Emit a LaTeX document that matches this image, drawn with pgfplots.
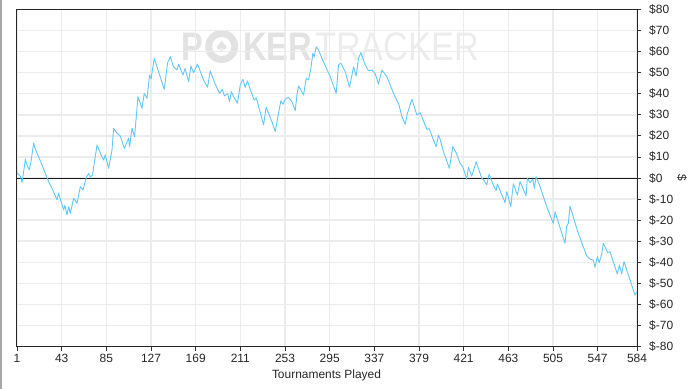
\documentclass[border=0pt]{standalone}
\usepackage{pgfplots}
\pgfplotsset{compat=1.18}
\usepackage{fontspec}
\setmainfont{Liberation Sans}
\definecolor{linec}{RGB}{96,200,250}
\definecolor{gridc}{RGB}{236,236,236}
\definecolor{wmA}{RGB}{226,226,226}
\definecolor{wmB}{RGB}{236,236,236}
\begin{document}
\begin{tikzpicture}
\useasboundingbox (-16bp,-42.5bp) rectangle (684bp,346.5bp);
\draw[black!35, line width=2bp] (-15bp,-42.5bp) -- (-15bp,346.5bp);
% watermark
\node[anchor=west, text=wmA, font=\fontsize{40}{40}\bfseries\selectfont, xscale=0.82, inner sep=0] at (165bp,300bp) {P};
\fill[wmA] (205.7bp,300bp) circle (16.5bp);
\fill[white] (205.7bp,300bp) circle (9.5bp);
\node[text=wmA, font=\fontsize{20}{20}\selectfont, inner sep=0] at (205.7bp,300bp) {♠};
\node[anchor=west, text=wmA, font=\fontsize{40}{40}\bfseries\selectfont, xscale=0.82, inner sep=0] at (227bp,300bp) {KER};
\node[anchor=west, text=wmB, font=\fontsize{40}{40}\selectfont, xscale=0.86, inner sep=0] at (299bp,300bp) {TRACKER};
\begin{axis}[
  at={(0,0)}, anchor=south west,
  scale only axis, width=621bp, height=337bp,
  xmin=0, xmax=584, ymin=-80, ymax=80,
  xtick={1,43,85,127,169,211,253,295,337,379,421,463,505,547,584},
  xticklabels={1,43,85,127,169,211,253,295,337,379,421,463,505,547,584},
  ytick={-80,-70,-60,-50,-40,-30,-20,-10,0,10,20,30,40,50,60,70,80},
  yticklabels={\$-80,\$-70,\$-60,\$-50,\$-40,\$-30,\$-20,\$-10,\$0,\$10,\$20,\$30,\$40,\$50,\$60,\$70,\$80},
  xtick pos=lower, ytick pos=upper,
  yticklabel pos=right,
  tick align=outside, major tick length=4bp,
  tick style={black!80, line width=0.8bp},
  grid=major, major grid style={gridc, line width=1.4bp},
  axis line style={black!85, line width=1bp},
  ticklabel style={font=\fontsize{12}{14}\selectfont, text=black!85},
  yticklabel style={anchor=west, xshift=4.7bp},
  xticklabel style={anchor=north},
  xlabel={Tournaments Played},
  xlabel style={font=\fontsize{12}{14}\selectfont, text=black!85, at={(axis description cs:0.5,0)}, anchor=center, yshift=-29bp},
  ylabel={\$},
  ylabel style={font=\fontsize{12}{14}\selectfont, text=black!85, at={(axis description cs:1,0.5)}, anchor=center, rotate=180, yshift=45bp},
]
\addplot[black!90, line width=1bp, forget plot] coordinates {(0,0) (584,0)};
\addplot[linec, line width=0.9bp, line join=round] coordinates {
(1,2.5) (4,1) (5.7,-2.2) (7.2,3) (8.8,9) (10.5,6) (12.6,3.8) (14.4,8.9) (16.6,16.5) (18,14) (19.8,11.7) (23,8) (27.6,2.2) (30.7,-1.7) (34,-5) (38.6,-10.4) (40.1,-7.3) (44.8,-15.2) (46,-13) (48,-17.6) (49.5,-13.6) (51.1,-16.8) (54.2,-9.6) (57.4,-12) (60.5,-4.1) (63,-5.7) (66,0) (68.3,2.2) (70,0.5) (72,1.5)
(76.2,15.7) (80,11) (82.4,8.5) (84,11) (87.1,4.6) (90.3,13.3) (91.8,23.6) (95,21.2) (98,20) (101.9,14.1) (105.9,18.9) (106.8,14.9) (109.1,23.6) (111.5,19.6) (114.7,38.6) (118.5,33.1) (120.6,40.2) (123.2,37.8) (125.6,48.9) (127,47) (130,56.8)
(139.4,42.1) (142.5,54.5) (145.1,57.6) (148,53) (151.4,51.3) (153,54) (157,48.9) (159,52) (162.3,45.7) (164.5,53.2) (167,50) (170.7,54.1) (176.4,46.5) (180.1,43.1) (182.7,50.9) (187,45) (191.4,40.2) (194,42) (196,39) (199,40) (200.8,36.2) (202.5,41) (204.6,38.6) (208.3,35.5) (210.9,44.2) (213.4,46.9) (215.5,43) (217.7,46.1) (220.3,42)
(224,37) (226,38) (232.8,25.2) (235.3,33.6) (240.7,26.7) (243.8,22) (245.4,26.7) (249.1,36.7) (251,35) (253.2,37.4) (256.3,38.3) (259.5,36.2) (262.6,32) (264.2,39.4) (265.7,43.7) (267.9,41.8) (270.4,39.4) (272.9,47.3) (275.1,46.6) (277.3,52.1) (279.2,59.2) (280.4,57.4) (282.3,62.3) (284.5,60.8) (287.7,56.8)
(295.5,48.1) (301.1,40.2) (303.3,53.7) (305.5,54.5) (309.6,50.5) (313.6,43.1) (315.9,48.9) (317.4,52.8) (319.9,48.4) (322.1,56.8) (324.3,59.5) (328.4,53.7) (331.5,50.9) (334.7,51.3) (337.8,49.5) (340.9,44.6) (344.1,51.3) (348.8,48.1) (352,44) (356,39) (360,35) (363,29) (366,25.6) (368.1,30.7) (372.3,37.4) (377,29.9) (380.1,31) (386.4,23.1) (388.5,23.5) (393.2,17.2) (395.1,14.9) (397.3,20.4) (398.8,18.4) (402,12.5) (407.6,4.6) (410.8,14.9) (413.9,12) (417.6,7) (420.2,5.4) (423.9,-0.6) (425.4,5.1) (428.6,0.9) (432.7,7.7) (438,-0.1) (440,-1) (442.7,-3.3) (444.9,1.8) (448.9,-3.3) (451.5,-6) (452.7,-2.8) (459.9,-11.7) (461.5,-6.5) (465.3,-13.6) (467.7,-2.8) (471.5,-8.1) (474,-1.7) (479.7,-8.5) (480.9,-0.1) (483.4,-2.2) (486,-0.6) (487.5,-4.9) (489.1,0.6) (492.8,-4.1) (499.7,-14.4) (505.3,-21.5) (506.9,-16) (516.3,-31) (517.9,-22.8) (519.4,-21.5) (521,-13.3) (528.8,-26.3) (536.7,-37) (539.8,-38.5) (542.9,-39) (544.5,-42.4) (546.7,-37.4) (548.5,-40.2) (550.8,-36.1) (552.3,-31) (556.5,-35.5) (558.6,-35) (565.5,-45.6) (567.4,-41.3) (569.6,-45.6) (571.8,-39.7) (582.1,-55.6) (584,-54)
};
\end{axis}
\end{tikzpicture}
\end{document}
